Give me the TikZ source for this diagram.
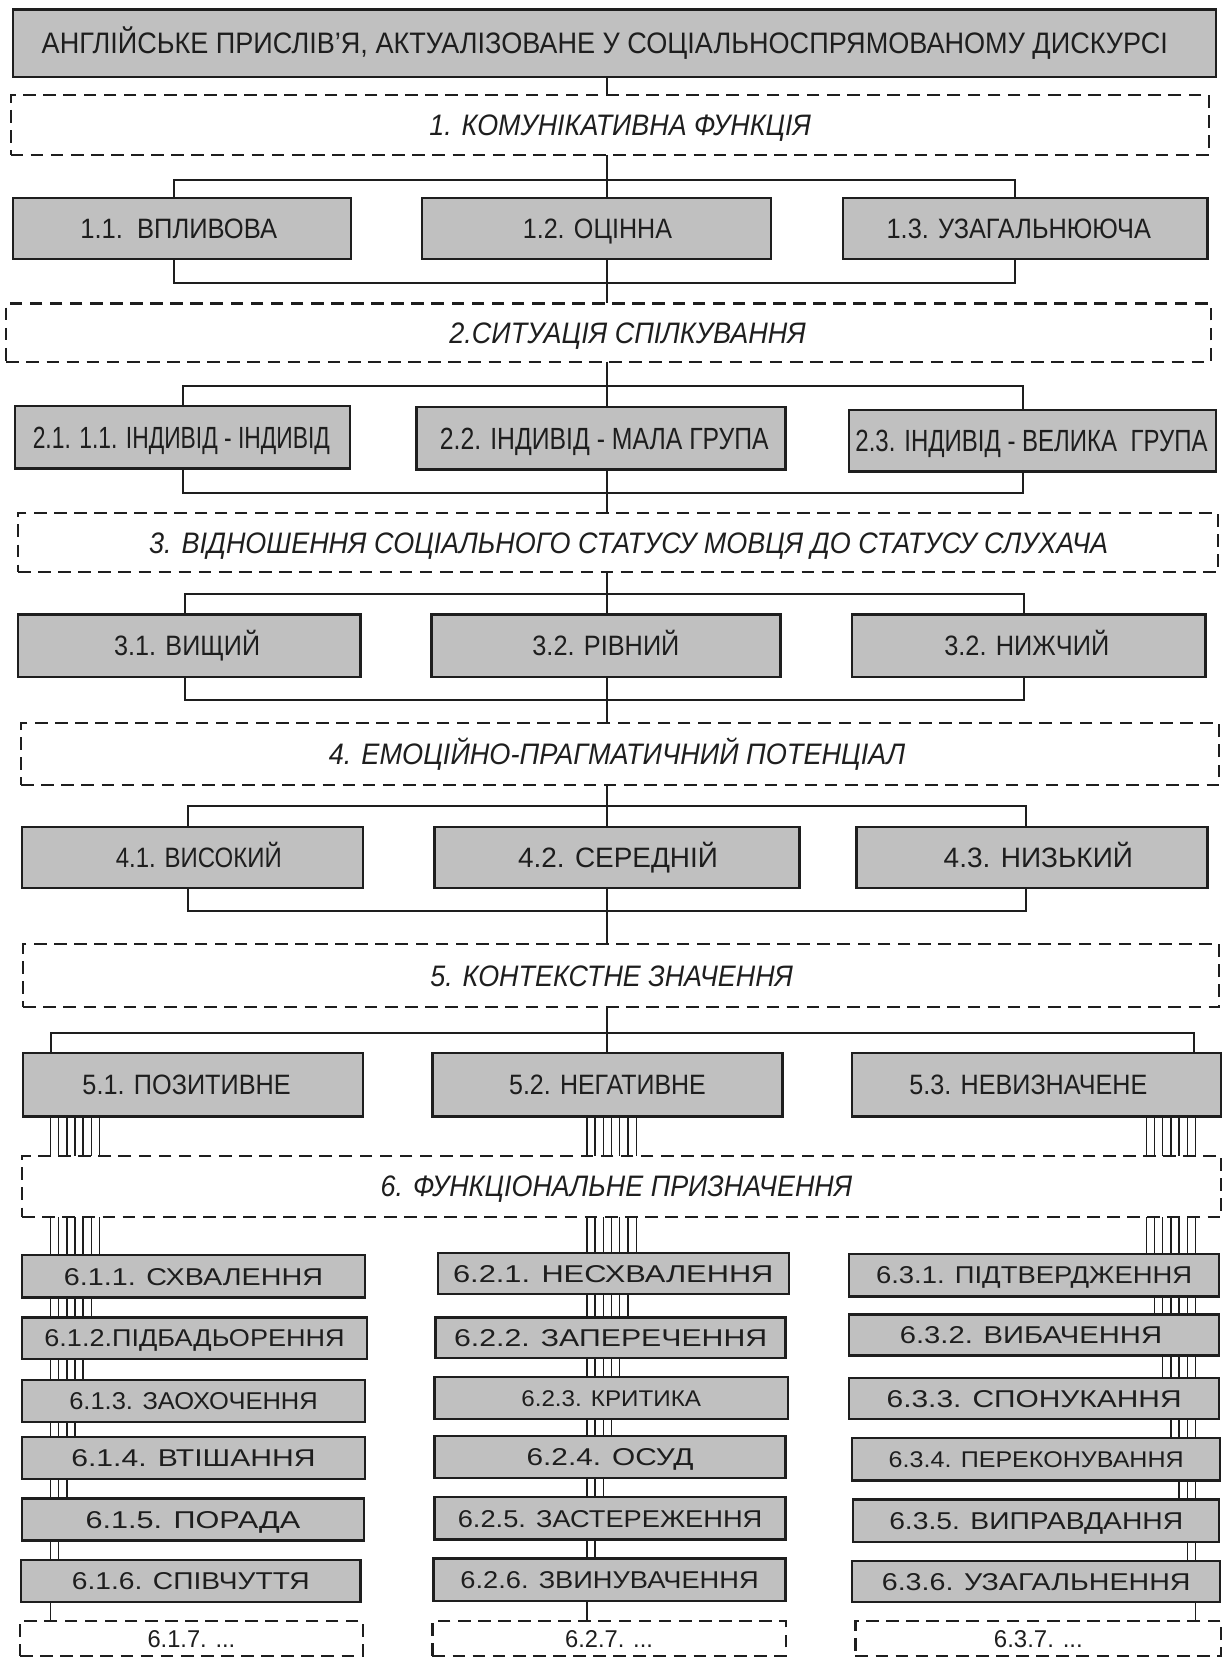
\documentclass[tikz,border=0pt]{standalone}
\usepackage{fontspec}
\setmainfont{Liberation Sans}
\usetikzlibrary{calc}
\definecolor{boxgray}{HTML}{C0C0C0}
\definecolor{ink}{HTML}{1E1E1E}
\newcommand\fitw[2]{\resizebox{#1pt}{\height}{#2}}
\tikzset{
 gbox/.style={draw=ink, line width=2.2pt, fill=boxgray, inner sep=0pt, outer sep=0pt},
 dbox/.style={draw=ink, line width=2pt, dash pattern=on 12pt off 7pt, inner sep=0pt, outer sep=0pt},
 conn/.style={draw=ink, line width=1.9pt},
 comb/.style={draw=ink, line width=1.3pt},
 lab/.style={inner sep=0pt, text=ink, text depth=0pt, anchor=center},
 fT/.style={font=\fontsize{28}{32}\selectfont, text height=20pt},
 fA/.style={font=\fontsize{26.5}{30}\selectfont, text height=19pt},
 fB/.style={font=\fontsize{29}{32}\selectfont, text height=20.8pt},
 fI/.style={font=\fontsize{28}{30}\selectfont\itshape, text height=20pt},
 fC/.style={font=\fontsize{23}{26}\selectfont, text height=16.5pt},
 fS/.style={font=\fontsize{21.5}{24}\selectfont, text height=15.4pt},
 fD/.style={font=\fontsize{23}{26}\selectfont, text height=16.5pt},
}
% name, style, x1, y1, x2, y2, text dx, font style, text
\newcommand\bx[9]{%
  \pgfmathsetmacro\bw{#5-#3}\pgfmathsetmacro\bh{#6-#4}%
  \pgfmathsetmacro\bcx{(#3+#5)/2}\pgfmathsetmacro\bcy{(#4+#6)/2}%
  \node[#2, minimum width=\bw pt, minimum height=\bh pt] (#1) at (\bcx,\bcy) {};
  \node[lab, #8] (#1-t) at ($(#1.center)+(#7,0)$) {#9};}
\begin{document}
\begin{tikzpicture}[x=1pt, y=-1pt]
\useasboundingbox[fill=white] (0,0) rectangle (1157,1568);
\coordinate (sp) at (574,0);
% ---- main chain
\bx{t}{gbox}{12}{9}{1150}{73}{-9}{fT}{\fitw{1065}{АНГЛІЙСЬКЕ ПРИСЛІВ’Я, АКТУАЛІЗОВАНЕ У СОЦІАЛЬНОСПРЯМОВАНОМУ ДИСКУРСІ}}
\bx{d1}{dbox}{10}{90}{1143}{147}{10}{fI}{\fitw{361}{1. КОМУНІКАТИВНА ФУНКЦІЯ}}
\bx{b11}{gbox}{12}{187}{332}{245}{-3}{fA}{\fitw{186}{1.1.\ \ ВПЛИВОВА}}
\bx{b12}{gbox}{399}{187}{729}{245}{1}{fA}{\fitw{141}{1.2. ОЦІННА}}
\bx{b13}{gbox}{797}{187}{1142}{245}{-6}{fA}{\fitw{250}{1.3. УЗАГАЛЬНЮЮЧА}}
\bx{d2}{dbox}{6}{287}{1145}{342}{18}{fI}{\fitw{337}{2.СИТУАЦІЯ СПІЛКУВАННЯ}}
\bx{b21}{gbox}{14}{384}{331}{443}{-1}{fB}{\fitw{281}{2.1. 1.1. ІНДИВІД - ІНДИВІД}}
\bx{b22}{gbox}{394}{385}{743}{444}{3}{fB}{\fitw{311}{2.2. ІНДИВІД - МАЛА ГРУПА}}
\bx{b23}{gbox}{803}{388}{1150}{446}{-1}{fB}{\fitw{333}{2.3. ІНДИВІД - ВЕЛИКА\ \ ГРУПА}}
\bx{d3}{dbox}{17}{485}{1152}{541}{10}{fI}{\fitw{907}{3. ВІДНОШЕННЯ СОЦІАЛЬНОГО СТАТУСУ МОВЦЯ ДО СТАТУСУ СЛУХАЧА}}
\bx{b31}{gbox}{17}{581}{341}{640}{-2}{fA}{\fitw{138}{3.1. ВИЩИЙ}}
\bx{b32}{gbox}{408}{581}{738}{640}{0}{fA}{\fitw{139}{3.2. РІВНИЙ}}
\bx{b33}{gbox}{806}{581}{1140}{640}{-2}{fA}{\fitw{156}{3.2. НИЖЧИЙ}}
\bx{d4}{dbox}{20}{684}{1153}{742}{-3}{fI}{\fitw{545}{4. ЕМОЦІЙНО-ПРАГМАТИЧНИЙ ПОТЕНЦІАЛ}}
\bx{b41}{gbox}{21}{782}{343}{840}{6}{fA}{\fitw{157}{4.1. ВИСОКИЙ}}
\bx{b42}{gbox}{411}{782}{756}{840}{1}{fA}{\fitw{189}{4.2. СЕРЕДНІЙ}}
\bx{b43}{gbox}{810}{782}{1142}{840}{6}{fA}{\fitw{179}{4.3. НИЗЬКИЙ}}
\bx{d5}{dbox}{22}{893}{1153}{952}{-9}{fI}{\fitw{343}{5. КОНТЕКСТНЕ ЗНАЧЕННЯ}}
\bx{b51}{gbox}{22}{996}{343}{1056}{-6}{fA}{\fitw{197}{5.1. ПОЗИТИВНЕ}}
\bx{b52}{gbox}{409}{996}{740}{1056}{0}{fA}{\fitw{186}{5.2. НЕГАТИВНЕ}}
\bx{b53}{gbox}{806}{996}{1155}{1056}{-8}{fA}{\fitw{225}{5.3. НЕВИЗНАЧЕНЕ}}
\bx{d6}{dbox}{21}{1093}{1155}{1151}{-5}{fI}{\fitw{446}{6. ФУНКЦІОНАЛЬНЕ ПРИЗНАЧЕННЯ}}
% ---- column 1
\bx{c1r1}{gbox}{21}{1187}{345}{1227}{0}{fC}{\fitw{245}{6.1.1. СХВАЛЕННЯ}}
\bx{c1r2}{gbox}{21}{1246}{347}{1285}{0}{fC}{\fitw{284}{6.1.2.ПІДБАДЬОРЕННЯ}}
\bx{c1r3}{gbox}{21}{1305}{345}{1345}{0}{fC}{\fitw{235}{6.1.3. ЗАОХОЧЕННЯ}}
\bx{c1r4}{gbox}{21}{1359}{345}{1399}{0}{fC}{\fitw{231}{6.1.4. ВТІШАННЯ}}
\bx{c1r5}{gbox}{21}{1417}{344}{1457}{0}{fC}{\fitw{203}{6.1.5. ПОРАДА}}
\bx{c1r6}{gbox}{20}{1475}{341}{1515}{0}{fC}{\fitw{225}{6.1.6. СПІВЧУТТЯ}}
\bx{c1r7}{dbox}{19}{1533}{343}{1566}{0}{fD}{\fitw{83}{6.1.7. ...}}
% ---- column 2
\bx{c2r1}{gbox}{414}{1185}{746}{1224}{0}{fC}{\fitw{303}{6.2.1. НЕСХВАЛЕННЯ}}
\bx{c2r2}{gbox}{412}{1246}{743}{1284}{0}{fC}{\fitw{296}{6.2.2. ЗАПЕРЕЧЕННЯ}}
\bx{c2r3}{gbox}{411}{1302}{745}{1342}{0}{fS}{\fitw{170}{6.2.3. КРИТИКА}}
\bx{c2r4}{gbox}{411}{1358}{743}{1398}{0}{fC}{\fitw{158}{6.2.4. ОСУД}}
\bx{c2r5}{gbox}{411}{1416}{743}{1456}{0}{fC}{\fitw{288}{6.2.5. ЗАСТЕРЕЖЕННЯ}}
\bx{c2r6}{gbox}{410}{1474}{743}{1514}{0}{fC}{\fitw{282}{6.2.6. ЗВИНУВАЧЕННЯ}}
\bx{c2r7}{dbox}{409}{1533}{743}{1566}{0}{fD}{\fitw{83}{6.2.7. ...}}
% ---- column 3
\bx{c3r1}{gbox}{803}{1186}{1153}{1226}{0}{fC}{\fitw{299}{6.3.1. ПІДТВЕРДЖЕННЯ}}
\bx{c3r2}{gbox}{803}{1243}{1153}{1282}{-3}{fC}{\fitw{248}{6.3.2. ВИБАЧЕННЯ}}
\bx{c3r3}{gbox}{803}{1303}{1153}{1342}{0}{fC}{\fitw{279}{6.3.3. СПОНУКАННЯ}}
\bx{c3r4}{gbox}{806}{1360}{1154}{1400}{0}{fS}{\fitw{279}{6.3.4. ПЕРЕКОНУВАННЯ}}
\bx{c3r5}{gbox}{807}{1418}{1153}{1458}{0}{fC}{\fitw{278}{6.3.5. ВИПРАВДАННЯ}}
\bx{c3r6}{gbox}{806}{1476}{1154}{1515}{0}{fC}{\fitw{292}{6.3.6. УЗАГАЛЬНЕННЯ}}
\bx{c3r7}{dbox}{809}{1533}{1155}{1566}{0}{fD}{\fitw{84}{6.3.7. ...}}
% ---- tree connectors
\coordinate (h1t) at (574,170); \coordinate (h1b) at (574,268);
\coordinate (h2t) at (574,365); \coordinate (h2b) at (574,466);
\coordinate (h3t) at (574,562); \coordinate (h3b) at (574,662);
\coordinate (h4t) at (574,762); \coordinate (h4b) at (574,862);
\coordinate (h5t) at (574,977);
\draw[conn] (t.south -| sp) -- (d1.north -| sp);
% level 1
\draw[conn] (d1.south -| sp) -- (b12.north -| sp);
\draw[conn] (b11.north -| 165,0) |- (h1t) -| (b13.north -| 960,0);
\draw[conn] (b11.south -| 165,0) |- (h1b) -| (b13.south -| 960,0);
\draw[conn] (b12.south -| sp) -- (d2.north -| sp);
% level 2
\draw[conn] (d2.south -| sp) -- (b22.north -| sp);
\draw[conn] (b21.north -| 173,0) |- (h2t) -| (b23.north -| 967,0);
\draw[conn] (b21.south -| 173,0) |- (h2b) -| (b23.south -| 967,0);
\draw[conn] (b22.south -| sp) -- (d3.north -| sp);
% level 3
\draw[conn] (d3.south -| sp) -- (b32.north -| sp);
\draw[conn] (b31.north -| 175,0) |- (h3t) -| (b33.north -| 968,0);
\draw[conn] (b31.south -| 175,0) |- (h3b) -| (b33.south -| 968,0);
\draw[conn] (b32.south -| sp) -- (d4.north -| sp);
% level 4
\draw[conn] (d4.south -| sp) -- (b42.north -| sp);
\draw[conn] (b41.north -| 178,0) |- (h4t) -| (b43.north -| 970,0);
\draw[conn] (b41.south -| 178,0) |- (h4b) -| (b43.south -| 970,0);
\draw[conn] (b42.south -| sp) -- (d5.north -| sp);
% level 5
\draw[conn] (d5.south -| sp) -- (b52.north -| sp);
\draw[conn] (b51.north -| 48,0) |- (h5t) -| (b53.north -| 1129,0);
% ---- comb connectors
\foreach \k in {1,...,7}{
  \pgfmathsetmacro\xa{47.9+7.68*(\k-1)}
  \pgfmathsetmacro\xb{555+7.78*(\k-1)}
  \pgfmathsetmacro\xc{1084+7.75*(\k-1)}
  \draw[comb] (b51.south -| \xa,0) -- (d6.north -| \xa,0);
  \draw[comb] (d6.south -| \xa,0) -- (c1r1.north -| \xa,0);
  \draw[comb] (b52.south -| \xb,0) -- (d6.north -| \xb,0);
  \draw[comb] (d6.south -| \xb,0) -- (c2r1.north -| \xb,0);
  \draw[comb] (b53.south -| \xc,0) -- (d6.north -| \xc,0);
  \draw[comb] (d6.south -| \xc,0) -- (c3r1.north -| \xc,0);
  \pgfmathtruncatemacro\lastA{7-\k}
  \ifnum\lastA>0
    \foreach \j in {1,...,\lastA}{
      \pgfmathtruncatemacro\jn{\j+1}
      \draw[comb] (c1r\j.south -| \xa,0) -- (c1r\jn.north -| \xa,0);
      \draw[comb] (c2r\j.south -| \xb,0) -- (c2r\jn.north -| \xb,0);
    }
  \fi
  \pgfmathtruncatemacro\lastC{\k-1}
  \ifnum\lastC>0
    \foreach \j in {1,...,\lastC}{
      \pgfmathtruncatemacro\jn{\j+1}
      \draw[comb] (c3r\j.south -| \xc,0) -- (c3r\jn.north -| \xc,0);
    }
  \fi
}
\end{tikzpicture}
\end{document}
